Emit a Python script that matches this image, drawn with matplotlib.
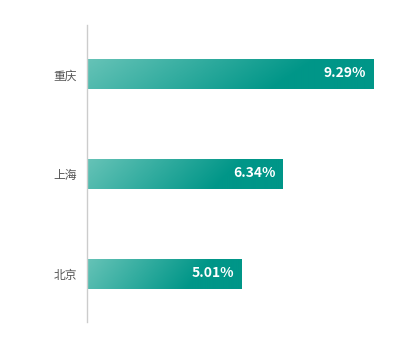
import numpy as np
import matplotlib
matplotlib.use("Agg")
from matplotlib import pyplot as plt
from matplotlib.colors import LinearSegmentedColormap

plt.rcParams['font.family'] = ['Noto Sans CJK SC', 'DejaVu Sans']

# data (bottom to top)
cities = ['北京', '上海', '重庆']
values = [5.01, 6.34, 9.29]
labels = ['5.01%', '6.34%', '9.29%']

fig = plt.figure(figsize=(4.15, 3.38), dpi=100)
ax = fig.add_axes([87 / 415, 16 / 338, 308 / 415, 297 / 338])

cmap = LinearSegmentedColormap.from_list('teal', ['#66c3b7', '#009688'])
bar_h = 0.3

# diagonal gradient block, reused for every bar
gx = np.linspace(0, 1, 200)
gy = np.linspace(0, 1, 30)
X, Y = np.meshgrid(gx, gy)
grad = np.clip((X + 0.15 * Y) / 0.8, 0, 1)

for i, (v, lab) in enumerate(zip(values, labels)):
    ax.imshow(grad, cmap=cmap, aspect='auto', origin='upper',
              extent=[0, v, i - bar_h / 2, i + bar_h / 2], zorder=2)
    ax.text(v - 0.22, i + 0.01, lab, color='white', fontsize=10, fontweight='bold',
            ha='right', va='center', zorder=3)

ax.set_xlim(0, 10)
ax.set_ylim(-0.48, 2.495)
ax.set_yticks(range(len(cities)))
ax.set_yticklabels(cities, fontsize=8.5, color='#555555')
ax.tick_params(axis='y', length=0, pad=7)
ax.set_xticks([])

for s in ['top', 'right', 'bottom']:
    ax.spines[s].set_visible(False)
ax.spines['left'].set_color('#cccccc')
ax.spines['left'].set_linewidth(1)

plt.savefig('out.png', dpi=100)
